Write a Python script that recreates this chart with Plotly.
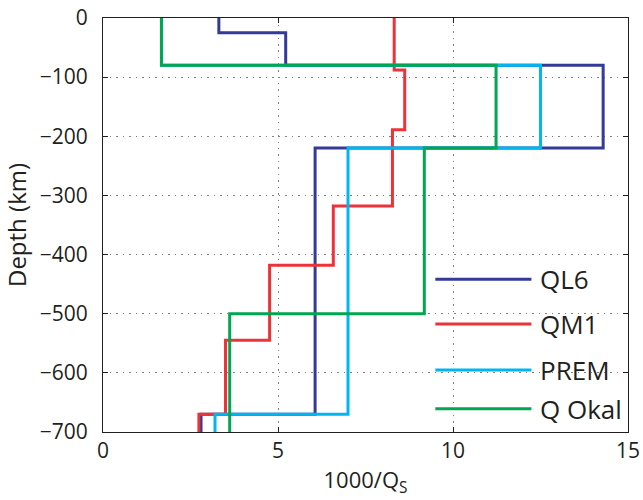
import plotly.graph_objects as go

# Layer tops (km, negative down) and 1000/Qs values for each model
names = ["QL6", "QM1", "PREM", "Q Okal"]
colors = ["#343a98", "#ee3338", "#00b6f0", "#00a651"]

ql6_tops = [0, -25, -80, -220, -670]
ql6_vals = [3.31, 5.22, 14.29, 6.06, 2.80]

qm1_tops = [0, -88, -189, -318, -418, -545, -670]
qm1_vals = [8.32, 8.62, 8.27, 6.58, 4.76, 3.50, 2.74]

prem_tops = [0, -80, -220, -670]
prem_vals = [1.67, 12.5, 7.0, 3.2]

okal_tops = [0, -80, -220, -500]
okal_vals = [1.67, 11.23, 9.18, 3.62]

bottom_depth = -700
x_ticks = [0, 5, 10, 15]
y_ticks = [0, -100, -200, -300, -400, -500, -600, -700]

models = [(ql6_tops, ql6_vals), (qm1_tops, qm1_vals),
          (prem_tops, prem_vals), (okal_tops, okal_vals)]

fig = go.Figure()
for (tops, vals), name, col in zip(models, names, colors):
    xs = list(vals) + [vals[-1]]
    ys = list(tops) + [bottom_depth]
    fig.add_trace(go.Scatter(x=xs, y=ys, mode="lines", name=name,
                             line=dict(color=col, width=3, shape="vh"),
                             showlegend=False))

# Manual legend (line sample + label), MATLAB-like
leg_y = [0.369, 0.261, 0.150, 0.056]
for name, col, yy in zip(names, colors, leg_y):
    fig.add_shape(type="line", xref="paper", yref="paper",
                  x0=0.633, x1=0.816, y0=yy, y1=yy,
                  line=dict(color=col, width=3))
    fig.add_annotation(xref="paper", yref="paper", x=0.828, y=yy,
                       text=name, showarrow=False, xanchor="left",
                       yanchor="middle",
                       font=dict(size=26, color="#231f20"))

axis_common = dict(showline=True, linecolor="#231f20", linewidth=1,
                   mirror="ticks", ticks="inside", ticklen=5,
                   tickcolor="#231f20", showgrid=True,
                   gridcolor="#808080", griddash="1.5px,5px", gridwidth=1,
                   zeroline=False, automargin=False,
                   tickfont=dict(size=21, color="#231f20"))

fig.update_xaxes(range=[0, 15], tickvals=x_ticks,
                 title=dict(text="1000/Q<sub>S</sub>", font=dict(size=22, color="#231f20"),
                            standoff=9),
                 **axis_common)
fig.update_yaxes(range=[-700, 0], tickvals=y_ticks, ticklabelstandoff=10,
                 title=dict(text="Depth (km)", font=dict(size=24, color="#231f20"),
                            standoff=6),
                 **axis_common)

fig.update_layout(width=643, height=500,
                  margin=dict(l=103, r=15, t=18, b=68),
                  paper_bgcolor="white", plot_bgcolor="white",
                  font=dict(family="Open Sans, Lato, sans-serif"))

fig.write_html("out.html")
